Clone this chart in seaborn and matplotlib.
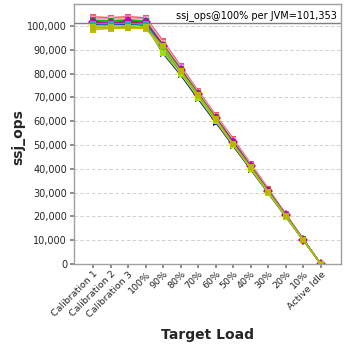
import matplotlib
matplotlib.use("Agg")
import matplotlib.pyplot as plt
import seaborn as sns
import pandas as pd
from matplotlib.ticker import FuncFormatter, MultipleLocator

categories = ["Calibration 1", "Calibration 2", "Calibration 3", "100%", "90%", "80%",
              "70%", "60%", "50%", "40%", "30%", "20%", "10%", "Active Idle"]

# ssj_ops per JVM
jvm01 = [103800, 103500, 103900, 103400, 93600, 83200, 72700, 62600, 52600, 42100, 31600, 21000, 10500, 0]
jvm02 = [101000, 100600, 101200, 100800, 91000, 81000, 70900, 60800, 50600, 40500, 30500, 20300, 10100, 0]
jvm03 = [102600, 102400, 102800, 102300, 92400, 82300, 72000, 61900, 51800, 41500, 31000, 20700, 10400, 0]
jvm04 = [100200, 99900, 100300, 100000, 89900, 80100, 70100, 60100, 50100, 40100, 30100, 20000, 10000, 0]
jvm05 = [103200, 103100, 103400, 102900, 93000, 82700, 72400, 62200, 52000, 41700, 31200, 20800, 10400, 0]
jvm06 = [102000, 101700, 102100, 101600, 91500, 81600, 71300, 61200, 51100, 40900, 30700, 20400, 10200, 0]
jvm07 = [103000, 102800, 103100, 102700, 92700, 82500, 72200, 62000, 51900, 41600, 31100, 20800, 10300, 0]
jvm08 = [99600, 99300, 99800, 99400, 89400, 79600, 69600, 59700, 49800, 39800, 29900, 19900, 9900, 0]
jvm09 = [101500, 101300, 101700, 101200, 91200, 81200, 71000, 60900, 50900, 40700, 30600, 20300, 10200, 0]
jvm10 = [100600, 100300, 100700, 100300, 88300, 79300, 69200, 59400, 49500, 39600, 29700, 19800, 9900, 0]
jvm11 = [102300, 102100, 102500, 102000, 92000, 82000, 71700, 61600, 51400, 41200, 30900, 20600, 10300, 0]
jvm12 = [98400, 98900, 99000, 98900, 90300, 80400, 70400, 60400, 50300, 40300, 30200, 20100, 10000, 0]
jvm13 = [101800, 101400, 101900, 101500, 91700, 81500, 71400, 61300, 51200, 41000, 30800, 20500, 10200, 0]
jvm14 = [100900, 100900, 101000, 100600, 90700, 80700, 70600, 60600, 50500, 40400, 30400, 20200, 10100, 0]
jvm15 = [99900, 100000, 100100, 99600, 88800, 79800, 69800, 59900, 49900, 39900, 29800, 19900, 9900, 0]
jvm16 = [99100, 99200, 99300, 99000, 91400, 81000, 71100, 61000, 50200, 40600, 30300, 20200, 10100, 0]

series = [jvm01, jvm02, jvm03, jvm04, jvm05, jvm06, jvm07, jvm08,
          jvm09, jvm10, jvm11, jvm12, jvm13, jvm14, jvm15, jvm16]
jvm_names = [f"JVM {i+1}" for i in range(len(series))]
ref_value = 101353

colors = ["#FF5555", "#5555FF", "#55FF55", "#FFFF55", "#FF55FF", "#55FFFF", "#FFAFAF", "#808080",
          "#C00000", "#0000C0", "#00C000", "#C0C000", "#C000C0", "#00C0C0", "#A0E000", "#B8B800"]
markers = ["s", "o", "^", "D", "s", "v", "o", ">", "s", ">", "s", "s", "D", "s", "s", "s"]

rows = []
for name, vals in zip(jvm_names, series):
    for i, (c, v) in enumerate(zip(categories, vals)):
        rows.append({"jvm": name, "pos": i, "load": c, "ssj_ops": v})
df = pd.DataFrame(rows)

sns.set_theme(style="white")
plt.rcParams['font.family'] = ['DejaVu Sans']

fig = plt.figure(figsize=(3.48, 3.48), dpi=100)
ax = fig.add_axes([74/348, 1-264/348, (341-74)/348, (264-4)/348])

ax.yaxis.grid(True, color="#C8C8C8", linestyle=(0, (4, 3)), linewidth=0.6)
ax.set_axisbelow(True)

sns.lineplot(data=df, x="pos", y="ssj_ops", hue="jvm", style="jvm",
             palette=dict(zip(jvm_names, colors)),
             markers=dict(zip(jvm_names, markers)),
             dashes=False, linewidth=1.0, markersize=5, markeredgewidth=0.0,
             legend=False, ax=ax, sort=False)

ax.axhline(ref_value, color="#808080", linewidth=1.0, zorder=5)
ax.text(0.985, (ref_value + 900) / 109200, "ssj_ops@100% per JVM=101,353",
        transform=ax.transAxes, ha="right", va="bottom", fontsize=7, color="black")

ax.set_xlim(-1.1, 14.15)
ax.set_ylim(0, 109200)
ax.yaxis.set_major_locator(MultipleLocator(10000))
ax.yaxis.set_major_formatter(FuncFormatter(lambda v, p: f"{int(v):,}"))
ax.set_xticks(range(len(categories)))
ax.set_xticklabels(categories, rotation=45, ha="right", rotation_mode="anchor", fontsize=6.8)
ax.tick_params(axis="y", labelsize=7, length=3, color="#808080", pad=2, left=True)
ax.tick_params(axis="x", length=3, color="#808080", pad=1, bottom=True)

for s in ax.spines.values():
    s.set_color("#A0A0A0")
    s.set_linewidth(1.0)

ax.set_xlabel("Target Load", fontsize=10, fontweight="bold")
ax.set_ylabel("ssj_ops", fontsize=10, fontweight="bold")
ax.xaxis.set_label_coords(0.5, (264 - 335) / 260, transform=ax.transAxes)
ax.yaxis.set_label_coords((18 - 74) / 267, 0.49, transform=ax.transAxes)
ax.xaxis.label.set_va("center")
ax.yaxis.label.set_va("center")

fig.savefig("out.png", dpi=100)
